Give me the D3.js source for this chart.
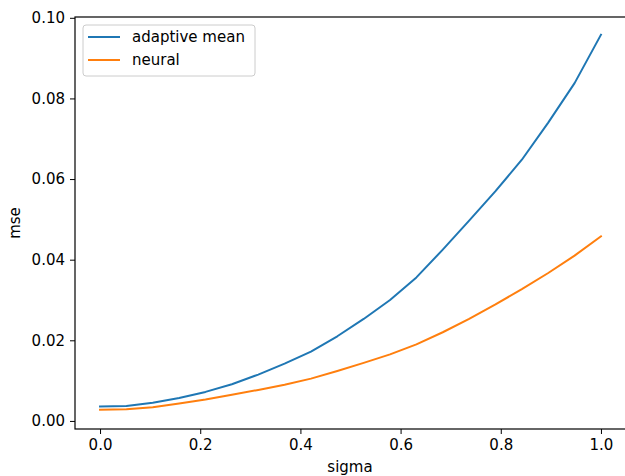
<!DOCTYPE html>
<html>
<head>
<meta charset="utf-8">
<script src="https://cdn.jsdelivr.net/npm/d3@7"></script>
<style>
  html, body { margin: 0; padding: 0; background: #fff; }
  svg { display: block; }
  text { font-family: "DejaVu Sans", sans-serif; fill: #000; }
</style>
</head>
<body>
<svg id="chart" width="625" height="476"></svg>
<script>
// ---- data ----
const sigma = d3.range(20).map(i => i / 19);
const adaptiveMean = [0.0036, 0.0037, 0.0045, 0.0057, 0.0072, 0.0091, 0.0115, 0.0142, 0.0172, 0.0210,
                      0.0253, 0.0300, 0.0356, 0.0425, 0.0497, 0.0570, 0.0648, 0.0740, 0.0838, 0.0958];
const neural = [0.0028, 0.0029, 0.0034, 0.0043, 0.0053, 0.0065, 0.0077, 0.0090, 0.0105, 0.0124,
                0.0144, 0.0165, 0.0190, 0.0220, 0.0253, 0.0289, 0.0327, 0.0367, 0.0410, 0.0458];
const seriesNames = ["adaptive mean", "neural"];
const seriesColors = ["#1f77b4", "#ff7f0e"];
const xTicks = [0.0, 0.2, 0.4, 0.6, 0.8, 1.0];
const yTicks = [0.00, 0.02, 0.04, 0.06, 0.08, 0.10];

// ---- layout ----
const svg = d3.select("#chart");
const mLeft = 75, mRight = 626, mTop = 17, mBottom = 429;
const fs = 15;

const x = d3.scaleLinear().domain([-0.05, 1.05]).range([mLeft, mRight]);
const y = d3.scaleLinear().domain([-0.002, 0.1002]).range([mBottom, mTop]);

// lines
const series = [adaptiveMean, neural];
const line = d3.line().x((d, i) => x(sigma[i])).y(d => y(d));
series.forEach((s, k) => {
  svg.append("path")
    .datum(s)
    .attr("d", line)
    .attr("fill", "none")
    .attr("stroke", seriesColors[k])
    .attr("stroke-width", 2)
    .attr("stroke-linejoin", "round")
    .attr("stroke-linecap", "square");
});

// axes
const xAxis = d3.axisBottom(x).tickValues(xTicks).tickFormat(d3.format(".1f")).tickSize(5).tickPadding(5);
const yAxis = d3.axisLeft(y).tickValues(yTicks).tickFormat(d3.format(".2f")).tickSize(5).tickPadding(5);

const gx = svg.append("g").attr("transform", `translate(0,${mBottom})`).call(xAxis);
const gy = svg.append("g").attr("transform", `translate(${mLeft},0)`).call(yAxis);
[gx, gy].forEach(g => {
  g.select(".domain").remove();
  g.selectAll(".tick line").attr("stroke", "#000").attr("stroke-width", 1);
  g.selectAll(".tick text").attr("font-size", fs).attr("font-family", "DejaVu Sans, sans-serif").attr("fill", "#000");
});

// frame (spines)
svg.append("rect")
  .attr("x", mLeft).attr("y", mTop)
  .attr("width", mRight - mLeft).attr("height", mBottom - mTop)
  .attr("fill", "none").attr("stroke", "#000").attr("stroke-width", 1.2);

// axis labels
svg.append("text")
  .attr("x", (mLeft + mRight) / 2 - 0.5).attr("y", 472)
  .attr("text-anchor", "middle").attr("font-size", fs)
  .text("sigma");
svg.append("text")
  .attr("transform", `translate(20,${(mTop + mBottom) / 2}) rotate(-90)`)
  .attr("text-anchor", "middle").attr("font-size", fs)
  .text("mse");

// legend
const lg = svg.append("g").attr("transform", "translate(83,25)");
lg.append("rect")
  .attr("width", 172).attr("height", 51).attr("rx", 3)
  .attr("fill", "#fff").attr("fill-opacity", 0.8)
  .attr("stroke", "#ccc").attr("stroke-width", 1);
seriesNames.forEach((name, k) => {
  const yy = 12 + k * 23;
  lg.append("line")
    .attr("x1", 5).attr("x2", 37).attr("y1", yy).attr("y2", yy)
    .attr("stroke", seriesColors[k]).attr("stroke-width", 2);
  lg.append("text")
    .attr("x", 49).attr("y", yy + 5)
    .attr("font-size", fs)
    .text(name);
});
</script>
</body>
</html>
